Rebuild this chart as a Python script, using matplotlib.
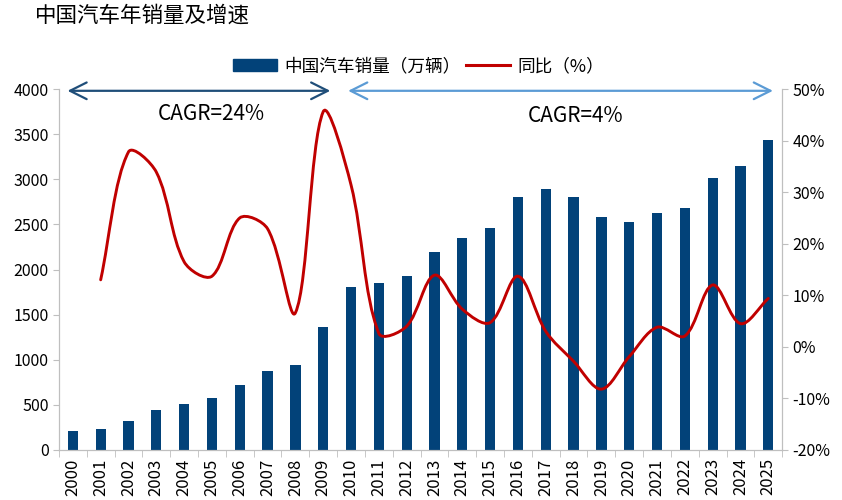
import matplotlib
matplotlib.use("Agg")
import matplotlib.pyplot as plt
from matplotlib.path import Path
from matplotlib.patches import PathPatch, FancyArrowPatch
from matplotlib.lines import Line2D
from matplotlib.ticker import FixedLocator, FuncFormatter
import math

plt.rcParams['font.family'] = ['Noto Sans CJK SC', 'DejaVu Sans']

years = [str(y) for y in range(2000, 2026)]
sales = [209, 236, 325, 439, 507, 576, 722, 879, 938, 1364, 1806, 1851, 1931,
         2198, 2349, 2460, 2803, 2888, 2808, 2577, 2531, 2627, 2686, 3009, 3144, 3435]
growth_years = years[1:]
growth = [13.0, 37.8, 33.9, 16.5, 13.7, 25.0, 22.9, 6.6, 45.6, 31.4, 2.6, 4.0,
          13.9, 7.3, 4.7, 13.7, 3.0, -2.8, -8.2, -1.9, 3.8, 2.1, 12.0, 4.5, 9.4]

title = "中国汽车年销量及增速"
bar_label = "中国汽车销量（万辆）"
line_label = "同比（%）"
cagr1 = "CAGR=24%"
cagr2 = "CAGR=4%"

bar_color = "#024279"
line_color = "#C00000"
dark_arrow = "#1F4E79"
light_arrow = "#5B9BD5"
spine_c = "#BFBFBF"

fig = plt.figure(figsize=(8.42, 5.0), dpi=100)
ax = fig.add_axes([0.070, 0.10, 0.859, 0.722])
ax2 = ax.twinx()

x = list(range(len(years)))
ax.bar(x, sales, width=0.37, color=bar_color, zorder=2)
ax.set_xlim(-0.5, len(years) - 0.5)
ax.set_ylim(0, 4000)
ax.set_yticks(range(0, 4001, 500))
ax.set_xticks(x)
ax.set_xticklabels(years, rotation=90, fontsize=12)
ax.tick_params(axis='x', length=0, pad=6)
ax.xaxis.set_minor_locator(FixedLocator([i - 0.5 for i in range(len(years) + 1)]))
ax.tick_params(axis='x', which='minor', length=5, color=spine_c)
ax.tick_params(axis='y', labelsize=11.5, length=4, color=spine_c)

ax2.set_ylim(-20, 50)
ax2.set_yticks(range(-20, 51, 10))
ax2.yaxis.set_major_formatter(FuncFormatter(lambda v, p: f"{int(v)}%"))
ax2.tick_params(axis='y', labelsize=11.5, length=4, color=spine_c)

# smoothed growth line (Excel-like bezier through the data points,
# tangent length weighted by on-screen segment lengths)
fig.canvas.draw()
gx = [years.index(y) for y in growth_years]
pts = list(zip(gx, growth))
disp = [tuple(ax2.transData.transform(p)) for p in pts]

def dist(a, b):
    return math.hypot(a[0] - b[0], a[1] - b[1])

n = len(pts)
verts = [pts[0]]
codes = [Path.MOVETO]
for i in range(n - 1):
    i0 = max(i - 1, 0)
    i3 = min(i + 2, n - 1)
    p0, p1, p2, p3 = pts[i0], pts[i], pts[i + 1], pts[i3]
    d01 = dist(disp[i0], disp[i])
    d12 = dist(disp[i], disp[i + 1])
    d23 = dist(disp[i + 1], disp[i3])
    w1 = d12 / (d01 + d12) / 3.0 if (d01 + d12) > 0 else 0
    w2 = d12 / (d12 + d23) / 3.0 if (d12 + d23) > 0 else 0
    c1 = (p1[0] + (p2[0] - p0[0]) * w1, p1[1] + (p2[1] - p0[1]) * w1)
    c2 = (p2[0] - (p3[0] - p1[0]) * w2, p2[1] - (p3[1] - p1[1]) * w2)
    verts += [c1, c2, p2]
    codes += [Path.CURVE4] * 3
ax2.add_patch(PathPatch(Path(verts, codes), facecolor='none', edgecolor=line_color,
                        lw=2.1, zorder=3, capstyle='round', joinstyle='round'))

for a in (ax, ax2):
    a.spines['top'].set_visible(False)
    a.spines['left'].set_color(spine_c)
    a.spines['right'].set_color(spine_c)
    a.spines['bottom'].set_color(spine_c)

# arrows
y_arrow = 0.995
style = '<->,head_length=12,head_width=6'
arr1 = FancyArrowPatch((0.008, y_arrow), (0.379, y_arrow), transform=ax.transAxes,
                       arrowstyle=style, color=dark_arrow,
                       lw=1.6, clip_on=False, mutation_scale=1)
arr2 = FancyArrowPatch((0.396, y_arrow), (0.991, y_arrow), transform=ax.transAxes,
                       arrowstyle=style, color=light_arrow,
                       lw=1.6, clip_on=False, mutation_scale=1)
ax.add_patch(arr1)
ax.add_patch(arr2)
ax.text(0.21, 0.93, cagr1, transform=ax.transAxes, ha='center', va='center', fontsize=15)
ax.text(0.714, 0.925, cagr2, transform=ax.transAxes, ha='center', va='center', fontsize=15)

# legend
handles = [plt.Rectangle((0, 0), 1, 1, color=bar_color),
           Line2D([0], [0], color=line_color, lw=2.2)]
fig.legend(handles, [bar_label, line_label], loc='center', bbox_to_anchor=(0.497, 0.868),
           ncol=2, frameon=False, fontsize=12.7, handlelength=2.5, columnspacing=0.3,
           handletextpad=0.4)

fig.text(0.041, 0.968, title, fontsize=15.5, ha='left', va='center')

fig.savefig("out.png", dpi=100)
